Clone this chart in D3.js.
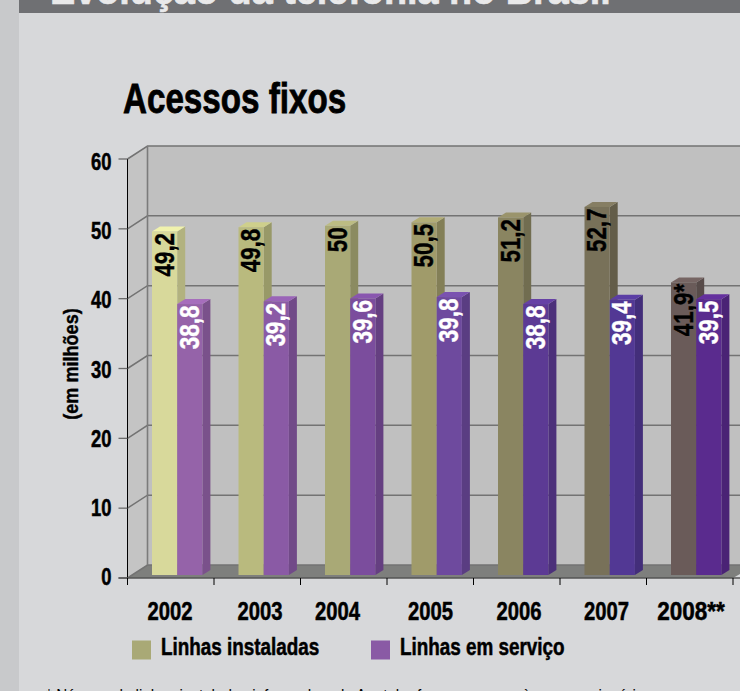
<!DOCTYPE html>
<html>
<head>
<meta charset="utf-8">
<script src="https://cdnjs.cloudflare.com/ajax/libs/d3/7.8.5/d3.min.js"></script>
<style>
  html, body { margin: 0; padding: 0; background: #d7d8da; overflow: hidden; }
  text { font-family: "Liberation Sans", sans-serif; font-weight: bold; }
</style>
</head>
<body>
<div id="chart"></div>
<script>
// Data
const years = ["2002", "2003", "2004", "2005", "2006", "2007", "2008**"]
const installed = [49.2, 49.8, 50, 50.5, 51.2, 52.7, 41.9]
const inService = [38.8, 39.2, 39.6, 39.8, 38.8, 39.4, 39.5]
const installedLabels = ["49,2", "49,8", "50", "50,5", "51,2", "52,7", "41,9*"]
const inServiceLabels = ["38,8", "39,2", "39,6", "39,8", "38,8", "39,4", "39,5"]
const installedColors = ["#d8d99b", "#b9ba7e", "#a9a976", "#a09b6a", "#8a8561", "#787159", "#6a5b59"]
const serviceColors = ["#9563a9", "#8a5aa5", "#7b4d9d", "#6e4a9e", "#5c3a94", "#523894", "#5a2b8e"]
const yTicks = [0, 10, 20, 30, 40, 50, 60]
const legendItems = ["Linhas instaladas", "Linhas em serviço"]

const width = 740
const height = 691

const svg = d3.select("#chart").append("svg")
    .attr("width", width)
    .attr("height", height)

// The original uses a condensed face, so squeeze the text to fit
function condense(sel, factor, weight) {
  const len = sel.node().getComputedTextLength()
  sel.attr("textLength", len * factor)
      .attr("lengthAdjust", "spacingAndGlyphs")
      .attr("stroke", sel.attr("fill"))
      .attr("stroke-width", weight)
  return sel
}

// Page background and cut-off header
svg.append("rect").attr("width", 19).attr("height", height).attr("fill", "#c8c9cb")
svg.append("rect").attr("x", 19).attr("width", width - 19).attr("height", 13).attr("fill", "#6f7073")
svg.append("text").attr("x", 50).attr("y", 4)
    .attr("font-size", 40).attr("fill", "#e9e9ea")
    .text("Evolução da telefonia no Brasil")
    .call(condense, 0.945, 0.6)

svg.append("text").attr("x", 123).attr("y", 113)
    .attr("font-size", 42).attr("fill", "#000")
    .text("Acessos fixos")
    .call(condense, 0.79, 0.8)

// Scales
const x = d3.scaleBand().domain(years).range([127.5, 733])
const y = d3.scaleLinear().domain([0, 60]).range([578, 159])
const barY = d3.scaleLinear().domain([0, 60]).range([575, 156])
const tickLabelY = d3.scaleLinear().domain([0, 60]).range([585, 170])

// 3D offsets
const wallDx = 20
const wallDy = -13
const sideDx = 8
const sideDy = -5
const barOffset = 24.5
const barW = 25.2

// Floor, side wall and back wall
const poly = (pts, fill) => svg.append("polygon").attr("points", pts.map(p => p.join(",")).join(" ")).attr("fill", fill)
const x0 = x.range()[0]
const x1 = width
poly([[x0 + wallDx, y(60) + wallDy], [x1, y(60) + wallDy], [x1, y(0) + wallDy], [x0 + wallDx, y(0) + wallDy]], "#c0c0c0")
poly([[x0, y(60)], [x0 + wallDx, y(60) + wallDy], [x0 + wallDx, y(0) + wallDy], [x0, y(0)]], "#c4c4c4")
poly([[x0, y(0)], [x0 + wallDx, y(0) + wallDy], [x1, y(0) + wallDy], [x1, y(0) + wallDy + 9], [x.range()[1], y(0)]], "#7e7f7d")

// Gridlines on the walls
yTicks.forEach(t => {
  svg.append("path")
      .attr("d", `M${x0},${y(t)}L${x0 + wallDx},${y(t) + wallDy}H${x1}`)
      .attr("fill", "none")
      .attr("stroke", "#737373")
      .attr("stroke-width", 1.5)
})
svg.append("line")
    .attr("x1", x0 + wallDx).attr("x2", x0 + wallDx)
    .attr("y1", y(60) + wallDy).attr("y2", y(0) + wallDy)
    .attr("stroke", "#7b7b7b").attr("stroke-width", 1.6)

// Bars
function drawBars(values, colors, offset, labels, labelColor) {
  const g = svg.append("g")
  values.forEach((v, i) => {
    const bx = x(years[i]) + offset
    const top = barY(v)
    const base = barY(0)
    const col = d3.color(colors[i])
    g.append("polygon")
        .attr("points", `${bx + barW},${top} ${bx + barW + sideDx},${top + sideDy} ${bx + barW + sideDx},${base + sideDy} ${bx + barW},${base}`)
        .attr("fill", col.darker(0.55))
    g.append("polygon")
        .attr("points", `${bx},${top} ${bx + sideDx},${top + sideDy} ${bx + barW + sideDx},${top + sideDy} ${bx + barW},${top}`)
        .attr("fill", col.brighter(0.3))
    g.append("rect")
        .attr("x", bx).attr("y", top)
        .attr("width", barW).attr("height", base - top)
        .attr("fill", col)
    g.append("text")
        .attr("transform", `translate(${bx + barW / 2 + 9},${top + 1.5}) rotate(-90)`)
        .attr("text-anchor", "end")
        .attr("font-size", 28)
        .attr("fill", labelColor)
        .text(labels[i])
        .call(condense, 0.8, 0.4)
  })
}
drawBars(installed, installedColors, barOffset, installedLabels, "#000")
drawBars(inService, serviceColors, barOffset + barW, inServiceLabels, "#fff")

// Y axis
svg.append("line").attr("x1", x0).attr("x2", x0)
    .attr("y1", y(60)).attr("y2", y(0) + 7)
    .attr("stroke", "#000").attr("stroke-width", 1)
yTicks.forEach(t => {
  svg.append("line").attr("x1", x0 - 9).attr("x2", x0)
      .attr("y1", y(t)).attr("y2", y(t))
      .attr("stroke", "#6b6b6b").attr("stroke-width", 1.3)
  svg.append("text").attr("x", x0 - 16).attr("y", tickLabelY(t))
      .attr("text-anchor", "end").attr("font-size", 23).attr("fill", "#000")
      .text(t)
      .call(condense, 0.8, 0.5)
})
svg.append("text")
    .attr("transform", "translate(78,364) rotate(-90)")
    .attr("text-anchor", "middle").attr("font-size", 21).attr("fill", "#000")
    .text("(em milhões)")
    .call(condense, 0.86, 0.4)

// X axis
svg.append("line").attr("x1", x0 - 9).attr("x2", x1)
    .attr("y1", y(0)).attr("y2", y(0))
    .attr("stroke", "#555").attr("stroke-width", 1.5)
const tickXs = years.map(d => x(d)).concat(x.range()[1])
tickXs.forEach(tx => {
  svg.append("line").attr("x1", tx).attr("x2", tx)
      .attr("y1", y(0)).attr("y2", y(0) + 7)
      .attr("stroke", "#000").attr("stroke-width", 1)
})
const yearCenters = [170, 260, 337.5, 430.5, 519, 606.5, 691]
years.forEach((d, i) => {
  svg.append("text")
      .attr("x", yearCenters[i]).attr("y", 620)
      .attr("text-anchor", "middle").attr("font-size", 25).attr("fill", "#000")
      .text(d)
      .call(condense, d.length > 4 ? 0.9 : 0.81, 0.5)
})

// Legend
const legendX = [132, 371]
legendItems.forEach((d, i) => {
  svg.append("rect").attr("x", legendX[i]).attr("y", 640.5)
      .attr("width", 19).attr("height", 19)
      .attr("fill", i === 0 ? "#a9a976" : "#8a5aa5")
  svg.append("text").attr("x", legendX[i] + 29).attr("y", 655)
      .attr("font-size", 23).attr("fill", "#000")
      .text(d)
      .call(condense, 0.82, 0.5)
})

// Footnote, cut off by the bottom of the picture
svg.append("text").attr("x", 46).attr("y", 702)
    .attr("font-size", 19).attr("fill", "#000").style("font-weight", "normal")
    .text("* Número de linhas instaladas informado pela Anatel refere-se apenas às concessionárias")
    .call(condense, 0.8, 0)
</script>
</body>
</html>
